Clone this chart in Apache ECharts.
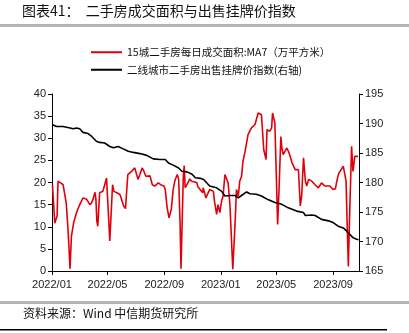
<!DOCTYPE html>
<html>
<head>
<meta charset="utf-8">
<script src="https://cdn.jsdelivr.net/npm/echarts@6/dist/echarts.min.js"></script>
<style>
  html, body { margin: 0; padding: 0; background: #fff; }
  #chart { width: 409px; height: 333px; }
</style>
</head>
<body>
<div id="chart"></div>
<script>
// 15城二手房每日成交面积:MA7（万平方米）
const areaDates = [
  '2022-01-02','2022-01-07','2022-01-12','2022-01-14','2022-01-18','2022-01-25','2022-01-29','2022-02-01',
  '2022-02-05','2022-02-09','2022-02-12','2022-02-17','2022-02-24','2022-03-02','2022-03-09','2022-03-13',
  '2022-03-17','2022-03-24','2022-03-28','2022-03-31','2022-04-04','2022-04-06','2022-04-08','2022-04-10',
  '2022-04-14','2022-04-21','2022-04-25','2022-04-29','2022-05-02','2022-05-06','2022-05-12','2022-05-15',
  '2022-05-21','2022-05-28','2022-06-01','2022-06-05','2022-06-09','2022-06-12','2022-06-14','2022-06-22',
  '2022-06-29','2022-07-03','2022-07-06','2022-07-10','2022-07-15','2022-07-19','2022-07-23','2022-08-01',
  '2022-08-06','2022-08-11','2022-08-19','2022-08-24','2022-08-31','2022-09-03','2022-09-07','2022-09-11',
  '2022-09-13','2022-09-16','2022-09-20','2022-09-24','2022-09-29','2022-10-02','2022-10-05','2022-10-07',
  '2022-10-12','2022-10-14','2022-10-16','2022-10-22','2022-10-26','2022-10-30','2022-11-10','2022-11-13',
  '2022-11-17','2022-11-23','2022-11-24','2022-11-30','2022-12-04','2022-12-08','2022-12-16','2022-12-19',
  '2022-12-23','2022-12-26','2022-12-30','2023-01-03','2023-01-06','2023-01-10','2023-01-14','2023-01-17',
  '2023-01-21','2023-01-27','2023-02-01','2023-02-04','2023-02-08','2023-02-11','2023-02-15','2023-02-18',
  '2023-02-22','2023-02-26','2023-03-01','2023-03-05','2023-03-08','2023-03-12','2023-03-16','2023-03-19',
  '2023-03-23','2023-03-27','2023-03-30','2023-04-01','2023-04-04','2023-04-09','2023-04-11','2023-04-17',
  '2023-04-21','2023-04-23','2023-04-28','2023-05-02','2023-05-04','2023-05-07','2023-05-11','2023-05-13',
  '2023-05-16','2023-05-24','2023-05-27','2023-05-31','2023-06-04','2023-06-07','2023-06-11','2023-06-14',
  '2023-06-18','2023-06-22','2023-06-25','2023-06-29','2023-07-03','2023-07-06','2023-07-10','2023-07-17',
  '2023-07-24','2023-07-31','2023-08-07','2023-08-14','2023-08-18','2023-08-25','2023-09-01','2023-09-06',
  '2023-09-09','2023-09-13','2023-09-16','2023-09-23','2023-09-27','2023-09-29','2023-10-01','2023-10-04',
  '2023-10-06','2023-10-11','2023-10-14','2023-10-18','2023-10-22','2023-10-25'
];
const areaValues = [
  19.5,10.8,12.5,20.3,20.6,19.5,19.2,15.2,
  8.7,0.5,7.9,11.0,13.5,15.0,16.5,16.8,
  16.2,15.0,15.5,16.3,17.8,16.2,11.3,10.1,
  17.7,18.0,19.5,21.0,20.8,6.8,19.5,18.0,
  17.7,17.3,17.7,14.7,14.1,18.8,21.8,22.5,
  23.3,23.7,20.7,21.8,23.3,22.5,21.4,21.5,
  19.5,19.2,19.9,19.5,19.2,18.4,14.3,12.0,
  12.4,13.9,18.4,20.5,21.8,20.7,10.9,0.5,
  21.4,23.8,18.8,19.9,20.8,20.3,20.0,19.0,
  19.2,17.7,18.8,16.5,17.5,18.4,18.0,15.4,
  12.8,15.0,13.2,16.0,16.9,21.8,21.4,19.9,
  14.7,0.4,10.9,18.4,16.9,20.3,21.4,24.8,
  26.7,29.0,30.8,31.2,32.3,31.9,33.1,33.5,
  35.7,36.1,35.3,35.7,27.4,25.2,31.9,31.6,
  32.3,35.7,33.5,18.4,10.5,18.4,30.4,28.0,
  26.3,27.8,27.1,26.0,24.5,23.8,22.9,23.3,
  22.9,14.7,16.9,25.6,20.3,19.2,20.7,20.3,
  19.5,18.8,19.9,19.2,19.5,19.2,18.4,18.6,
  20.3,22.0,21.8,23.7,23.7,20.3,12.0,1.0,
  10.0,28.2,22.5,25.9,25.9,25.9
];

// 二线城市二手房出售挂牌价指数（右轴）
const indexDates = [
  '2022-01-02','2022-01-11','2022-01-25','2022-02-09','2022-02-16','2022-02-23','2022-03-02','2022-03-09',
  '2022-03-20','2022-03-28','2022-04-07','2022-04-14','2022-04-25','2022-05-06','2022-05-14','2022-05-24',
  '2022-06-04','2022-06-15','2022-06-26','2022-07-10','2022-07-25','2022-08-08','2022-08-23','2022-09-03',
  '2022-09-10','2022-09-21','2022-10-01','2022-10-09','2022-10-20','2022-10-31','2022-11-07','2022-11-18',
  '2022-11-25','2022-12-08','2022-12-23','2023-01-03','2023-01-10','2023-01-21','2023-02-01','2023-02-08',
  '2023-02-15','2023-02-26','2023-03-05','2023-03-19','2023-03-30','2023-04-13','2023-04-28','2023-05-13',
  '2023-05-27','2023-06-14','2023-06-29','2023-07-03','2023-07-17','2023-07-24','2023-08-07','2023-08-22',
  '2023-09-01','2023-09-12','2023-09-23','2023-09-30','2023-10-07','2023-10-14','2023-10-22','2023-10-26'
];
const indexValues = [
  189.8,189.5,189.5,189.25,189.1,189.25,189.1,188.5,
  188.3,187.8,187.0,186.8,186.7,186.1,185.9,186.1,
  185.7,185.3,185.1,184.9,184.6,184.0,183.9,183.9,
  183.3,182.9,182.5,181.9,181.8,181.4,180.8,180.7,
  180.5,179.4,179.1,178.5,177.7,177.8,177.8,177.4,
  177.8,178.4,178.1,178.0,177.7,177.1,176.6,176.3,
  175.7,175.15,174.9,174.4,174.5,174.4,173.75,173.5,
  173.2,172.6,172.3,171.8,171.2,170.65,170.4,170.3
];

const seriesNames = ['15城二手房每日成交面积:MA7（万平方米）', '二线城市二手房出售挂牌价指数(右轴)'];
const xTickMonths = ['01', '05', '09'];
const axisStart = '2022-01-01';
const axisEnd = '2023-10-27';

// daily category axis
function buildDays(start, end) {
  const out = [];
  const d = new Date(start + 'T00:00:00Z');
  const e = new Date(end + 'T00:00:00Z');
  while (d <= e) {
    out.push(d.toISOString().slice(0, 10));
    d.setUTCDate(d.getUTCDate() + 1);
  }
  return out;
}
const days = buildDays(axisStart, axisEnd);
const isTickDay = (idx, val) => val.slice(8) === '01' && xTickMonths.includes(val.slice(5, 7));

const numFont = 'Liberation Sans, Arial, sans-serif';
const cjkFont = '"Noto Sans CJK SC", sans-serif';

const chart = echarts.init(document.getElementById('chart'), null, { renderer: 'canvas' });
chart.setOption({
  animation: false,
  backgroundColor: '#fff',
  grid: { left: 52, right: 50, top: 94, bottom: 62, containLabel: false },
  legend: {
    orient: 'vertical',
    left: 86,
    top: 42,
    itemWidth: 31,
    itemHeight: 2,
    itemGap: 7,
    icon: 'rect',
    textStyle: { fontFamily: cjkFont, fontSize: 10.5, color: '#111' },
    data: seriesNames
  },
  xAxis: {
    type: 'category',
    data: days,
    boundaryGap: false,
    axisLine: { lineStyle: { color: '#000', width: 1 } },
    axisTick: { interval: isTickDay, length: 4, lineStyle: { color: '#000' } },
    axisLabel: {
      interval: isTickDay,
      formatter: v => v.slice(0, 4) + '/' + v.slice(5, 7),
      fontFamily: numFont, fontSize: 11, color: '#222', margin: 8
    },
    splitLine: { show: false }
  },
  yAxis: [
    {
      type: 'value', min: 0, max: 40, interval: 5,
      axisLine: { show: true, lineStyle: { color: '#000' } },
      axisTick: { show: true, length: 4, lineStyle: { color: '#000' } },
      axisLabel: { fontFamily: numFont, fontSize: 11, color: '#222', margin: 6 },
      splitLine: { show: false }
    },
    {
      type: 'value', min: 165, max: 195, interval: 5,
      axisLine: { show: true, lineStyle: { color: '#000' } },
      axisTick: { show: true, length: 4, lineStyle: { color: '#000' } },
      axisLabel: { fontFamily: numFont, fontSize: 11, color: '#222', margin: 6 },
      splitLine: { show: false }
    }
  ],
  series: [
    {
      name: seriesNames[0], type: 'line', yAxisIndex: 0,
      data: areaDates.map((d, i) => [d, areaValues[i]]),
      showSymbol: false, symbol: 'none',
      lineStyle: { color: '#e0000b', width: 1.6 },
      itemStyle: { color: '#e0000b' }
    },
    {
      name: seriesNames[1], type: 'line', yAxisIndex: 1,
      data: indexDates.map((d, i) => [d, indexValues[i]]),
      showSymbol: false, symbol: 'none',
      lineStyle: { color: '#000', width: 1.6 },
      itemStyle: { color: '#000' }
    }
  ],
  graphic: [
    { type: 'text', left: 22, top: 4,
      style: { text: '图表41：  二手房成交面积与出售挂牌价指数', font: '14px ' + cjkFont, fill: '#111' } },
    { type: 'rect', shape: { x: 0, y: 24, width: 409, height: 3 }, style: { fill: '#b4b4b4' } },
    { type: 'rect', shape: { x: 0, y: 301, width: 409, height: 3 }, style: { fill: '#b4b4b4' } },
    { type: 'text', left: 23, top: 307,
      style: { text: '资料来源：Wind 中信期货研究所', font: '12px ' + cjkFont, fill: '#111' } },
    { type: 'rect', shape: { x: 0, y: 329, width: 387, height: 1.5 }, style: { fill: '#000' } }
  ]
});
</script>
</body>
</html>
